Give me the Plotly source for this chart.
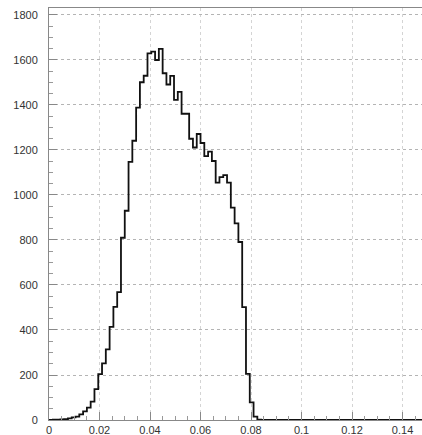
import numpy as np
import plotly.graph_objects as go

# Histogram: 100 bins from 0 to 0.15
bin_low = 0.0
bin_width = 0.0015
counts = [
    0, 1, 2, 3, 4, 7, 12, 15, 25, 38,
    55, 82, 137, 204, 252, 314, 414, 503, 568, 810,
    930, 1147, 1241, 1388, 1501, 1530, 1629, 1637, 1600, 1649,
    1541, 1491, 1529, 1423, 1458, 1361, 1361, 1250, 1211, 1271,
    1231, 1173, 1193, 1151, 1055, 1079, 1088, 1055, 944, 874,
    791, 502, 205, 78, 15, 2, 0, 0, 0, 0,
    0, 0, 0, 0, 0, 0, 0, 0, 0, 0,
    0, 0, 0, 0, 0, 0, 0, 0, 0, 0,
    0, 0, 0, 0, 0, 0, 0, 0, 0, 0,
    0, 0, 0, 0, 0, 0, 0, 0, 0, 0,
]

x_ticks = [0, 0.02, 0.04, 0.06, 0.08, 0.1, 0.12, 0.14]
x_tick_text = ["0", "0.02", "0.04", "0.06", "0.08", "0.1", "0.12", "0.14"]
y_ticks = [0, 200, 400, 600, 800, 1000, 1200, 1400, 1600, 1800]

edges = bin_low + bin_width * np.arange(len(counts) + 1)
step_y = list(counts) + [counts[-1]]

fig = go.Figure()
fig.add_trace(go.Scatter(
    x=edges, y=step_y,
    mode="lines",
    line=dict(shape="hv", color="#111111", width=1.8),
    hoverinfo="skip",
    showlegend=False,
))

fig.update_layout(
    width=422, height=435,
    margin=dict(l=49, r=0, t=8, b=15),
    paper_bgcolor="white",
    plot_bgcolor="white",
    font=dict(family="Liberation Sans, Arial, sans-serif", size=11, color="#333333"),
)

fig.update_xaxes(
    range=[0, 0.1477],
    tickmode="array", tickvals=x_ticks, ticktext=x_tick_text,
    showgrid=True, gridcolor="#d4d4d4", griddash="dot", gridwidth=1,
    showline=True, linecolor="#888888", linewidth=1, mirror=True,
    ticks="inside", ticklen=8, tickcolor="#888888",
    minor=dict(dtick=0.005, ticks="inside", ticklen=4, tickcolor="#999999", showgrid=False),
    zeroline=False,
    ticklabelstandoff=0,
)
fig.update_yaxes(
    range=[0, 1831],
    tickmode="array", tickvals=y_ticks,
    showgrid=True, gridcolor="#b4b4b4", griddash="dot", gridwidth=1,
    showline=True, linecolor="#888888", linewidth=1,
    ticks="inside", ticklen=8, tickcolor="#888888",
    minor=dict(dtick=50, ticks="inside", ticklen=4, tickcolor="#999999", showgrid=False),
    zeroline=False,
    ticklabelstandoff=8,
)

fig.write_html("out.html")
